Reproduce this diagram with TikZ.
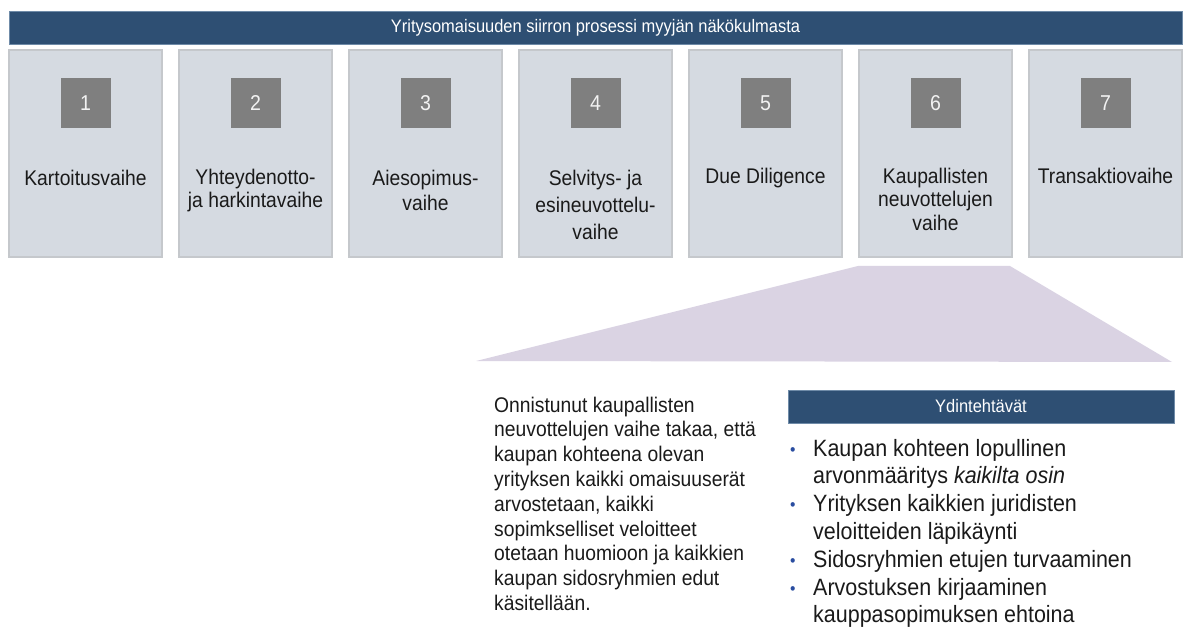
\documentclass[tikz,border=0pt]{standalone}
\usepackage{fontspec}
% slightly condensed, taller sans face
\setmainfont[FakeStretch=0.91]{Liberation Sans}
\usepackage{xcolor}

\definecolor{hdrblue}{HTML}{2E4F73}
\definecolor{hdredge}{HTML}{6F8BA8}
\definecolor{phasefill}{HTML}{D5DAE1}
\definecolor{phaseedge}{HTML}{C5C8CC}
\definecolor{numgray}{HTML}{7F7F7F}
\definecolor{zoomlilac}{HTML}{DAD3E3}
\definecolor{bulblue}{HTML}{2A4DA0}
\definecolor{inktext}{HTML}{1A1A1A}

\newcommand{\fsz}[2]{\fontsize{#1}{#2}\selectfont}
\newcommand{\bul}{\makebox[23pt][l]{\raisebox{1pt}{\color{bulblue}\fsz{17}{17}\textbullet}}}

\tikzset{
  banner/.style={fill=hdrblue, draw=hdredge, line width=0.8pt, inner sep=0pt,
    text=white, font=\fsz{18.1}{20}},
  phasebox/.style={fill=phasefill, draw=phaseedge, line width=1.2pt,
    minimum width=153pt, minimum height=207pt, inner sep=0pt},
  numbox/.style={fill=numgray, minimum size=50pt, inner sep=0pt,
    text=white!95!black, font=\fsz{21.5}{23}},
  phaselabel/.style={anchor=north, inner sep=0pt, text=inktext},
  bodytext/.style={anchor=north west, inner sep=0pt, text=inktext}
}

\begin{document}
\begin{tikzpicture}[x=1pt, y=-1pt]
\useasboundingbox (0,0) rectangle (1187,628);

% title bar across the seven phases
\node[banner, minimum width=1173pt, minimum height=33pt] (title) at (595.5,27.5)
  {Yritysomaisuuden siirron prosessi myyjän näkökulmasta};

% phase columns
\node[phasebox] (p1) at (85.5,153.5) {};
\node[phasebox] (p2) at (255.5,153.5) {};
\node[phasebox] (p3) at (425.5,153.5) {};
\node[phasebox] (p4) at (595.5,153.5) {};
\node[phasebox] (p5) at (765.5,153.5) {};
\node[phasebox] (p6) at (935.5,153.5) {};
\node[phasebox] (p7) at (1105.5,153.5) {};

% phase numbers
\node[numbox] (n1) at (85.5,103) {1};
\node[numbox] (n2) at (255.5,103) {2};
\node[numbox] (n3) at (425.5,103) {3};
\node[numbox] (n4) at (595.5,103) {4};
\node[numbox] (n5) at (765.5,103) {5};
\node[numbox] (n6) at (935.5,103) {6};
\node[numbox] (n7) at (1105.5,103) {7};

% phase names
\node[phaselabel] (l1) at (85.5,168.2)
  {\fsz{21.2}{24}\begin{tabular}{@{}c@{}}Kartoitusvaihe\end{tabular}};
\node[phaselabel] (l2) at (255.5,168.2)
  {\fsz{21.2}{23}\begin{tabular}{@{}c@{}}Yhteydenotto-\\ja harkintavaihe\end{tabular}};
\node[phaselabel] (l3) at (425.5,167.5)
  {\fsz{21.2}{25}\begin{tabular}{@{}c@{}}Aiesopimus-\\vaihe\end{tabular}};
\node[phaselabel] (l4) at (595.5,166.1)
  {\fsz{21.2}{27}\begin{tabular}{@{}c@{}}Selvitys- ja\\esineuvottelu-\\vaihe\end{tabular}};
\node[phaselabel] (l5) at (765.5,166.5)
  {\fsz{21.2}{24}\begin{tabular}{@{}c@{}}Due Diligence\end{tabular}};
\node[phaselabel] (l6) at (935.5,166.5)
  {\fsz{21.2}{23.5}\begin{tabular}{@{}c@{}}Kaupallisten\\neuvottelujen\\vaihe\end{tabular}};
\node[phaselabel] (l7) at (1105.5,166.5)
  {\fsz{21.2}{24}\begin{tabular}{@{}c@{}}Transaktiovaihe\end{tabular}};

% zoom-out wedge below phase 6
\fill[zoomlilac] (476,361) -- (858,266) -- (1010,266) -- (1172,362) -- cycle;

% description of phase 6
\node[bodytext] (desc) at (494,394.6)
  {\fsz{21.2}{24.8}\begin{tabular}{@{}l@{}}
  Onnistunut kaupallisten\\
  neuvottelujen vaihe takaa, että\\
  kaupan kohteena olevan\\
  yrityksen kaikki omaisuuserät\\
  arvostetaan, kaikki\\
  sopimkselliset veloitteet\\
  otetaan huomioon ja kaikkien\\
  kaupan sidosryhmien edut\\
  käsitellään.
  \end{tabular}};

% core tasks
\node[banner, minimum width=386pt, minimum height=33pt] (tasks) at (981,406.5)
  {Ydintehtävät};
\node[bodytext] (tasklist) at (790,436.5)
  {\fsz{23.6}{27.8}\begin{tabular}{@{}l@{}}
  \bul Kaupan kohteen lopullinen\\
  \hspace{23pt}arvonmääritys \textit{kaikilta osin}\\
  \bul Yrityksen kaikkien juridisten\\
  \hspace{23pt}veloitteiden läpikäynti\\
  \bul Sidosryhmien etujen turvaaminen\\
  \bul Arvostuksen kirjaaminen\\
  \hspace{23pt}kauppasopimuksen ehtoina
  \end{tabular}};
\end{tikzpicture}
\end{document}
